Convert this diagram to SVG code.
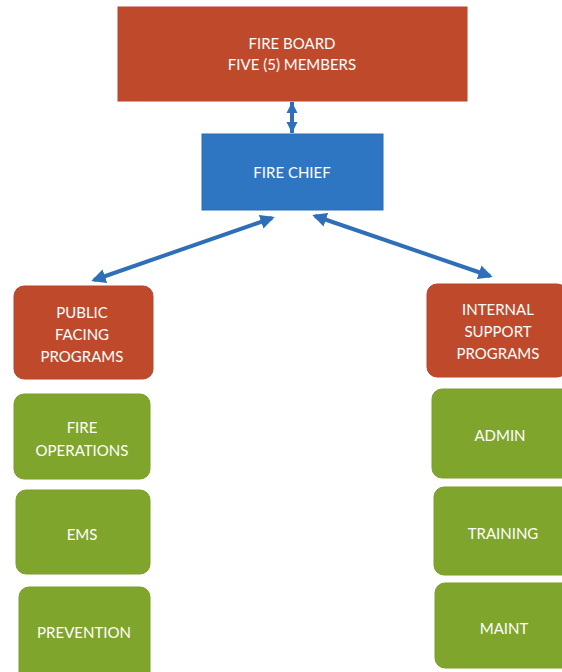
<svg xmlns="http://www.w3.org/2000/svg" width="562" height="672" viewBox="0 0 562 672">
<style>
.red{fill:#bf4a2b;stroke:#b8452a;stroke-width:1}
.blue{fill:#2f76c2;stroke:#2a6db5;stroke-width:1}
.green{fill:#80a52c;stroke:#7a9e28;stroke-width:1}
text{font-family:Lato,"Open Sans","Liberation Sans",sans-serif;font-size:15px;fill:#ffffff;text-anchor:middle}
.conn{stroke:#2e6fb8;stroke-width:4;fill:none;marker-start:url(#ah);marker-end:url(#ah)}
.vconn{stroke:#2e6fb8;stroke-width:4;fill:none;marker-start:url(#ahv);marker-end:url(#ahv)}
</style>
<defs>
<marker id="ah" viewBox="0 0 10 10" refX="8" refY="5" markerWidth="3.6" markerHeight="3.6" orient="auto-start-reverse" markerUnits="strokeWidth">
<path d="M0,0 L10,5 L0,10 Z" fill="#2e6fb8"/>
</marker>
<marker id="ahv" viewBox="0 0 10 10" refX="10" refY="5" markerWidth="2.8" markerHeight="2.8" orient="auto-start-reverse" markerUnits="strokeWidth">
<path d="M0,0 L10,5 L0,10 Z" fill="#2e6fb8"/>
</marker>
</defs>
<rect width="562" height="672" fill="#ffffff"/>
<g id="connectors">
<line class="vconn" x1="292" y1="102" x2="292" y2="133"/>
<line class="conn" x1="272" y1="218" x2="94" y2="280"/>
<line class="conn" x1="315" y1="216" x2="490" y2="276"/>
</g>
<g id="fire-board">
<rect class="red" x="118" y="7" width="349" height="94"/>
<text x="292" y="49">FIRE BOARD</text>
<text x="292" y="70">FIVE (5) MEMBERS</text>
</g>
<g id="fire-chief">
<rect class="blue" x="202" y="134" width="181" height="76"/>
<text x="292" y="178">FIRE CHIEF</text>
</g>
<g id="public-facing">
<rect class="red" x="14" y="286" width="139" height="93" rx="10"/>
<text x="82" y="318">PUBLIC</text>
<text x="82" y="340">FACING</text>
<text x="82" y="362">PROGRAMS</text>
</g>
<g id="internal-support">
<rect class="red" x="427" y="284" width="140" height="93" rx="10"/>
<text x="498" y="315">INTERNAL</text>
<text x="498" y="337">SUPPORT</text>
<text x="498" y="359">PROGRAMS</text>
</g>
<g id="fire-operations">
<rect class="green" x="14" y="394" width="136" height="85" rx="10"/>
<text x="82" y="433">FIRE</text>
<text x="82" y="456">OPERATIONS</text>
</g>
<g id="ems">
<rect class="green" x="16" y="490" width="134" height="84" rx="10"/>
<text x="82" y="540">EMS</text>
</g>
<g id="prevention">
<rect class="green" x="19" y="587" width="131" height="95" rx="10"/>
<text x="84" y="638">PREVENTION</text>
</g>
<g id="admin">
<rect class="green" x="432" y="389" width="140" height="89" rx="10"/>
<text x="500" y="441">ADMIN</text>
</g>
<g id="training">
<rect class="green" x="434" y="487" width="138" height="88" rx="10"/>
<text x="503" y="539">TRAINING</text>
</g>
<g id="maint">
<rect class="green" x="435" y="583" width="137" height="85" rx="10"/>
<text x="504" y="634">MAINT</text>
</g>
</svg>
